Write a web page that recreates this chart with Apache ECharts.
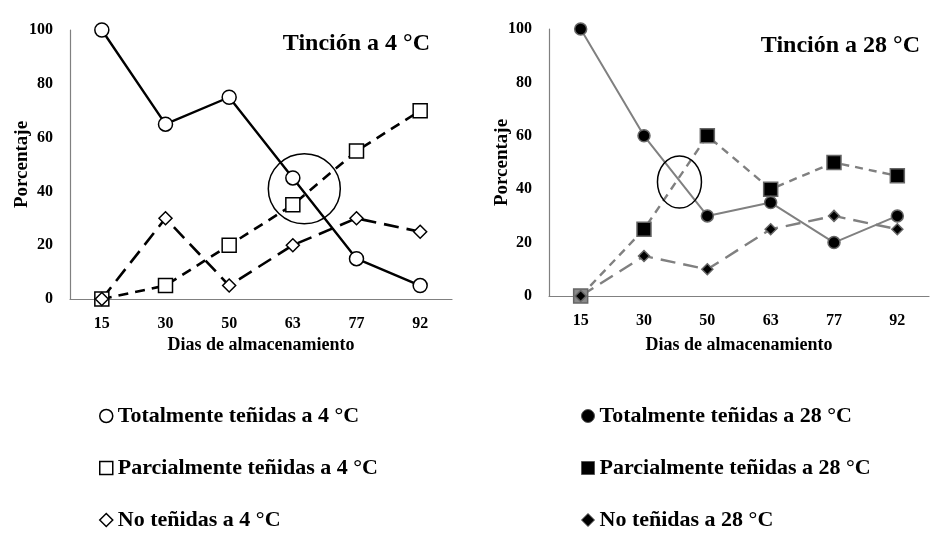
<!DOCTYPE html>
<html><head><meta charset="utf-8">
<script src="https://cdn.jsdelivr.net/npm/echarts@6/dist/echarts.min.js"></script>
<style>html,body{margin:0;background:#fff}#c{width:943px;height:544px}</style>
</head><body><div id="c"></div>
<script>
const days = ['15', '30', '50', '63', '77', '92'];
const total4 = [100, 65, 75, 45, 15, 5];
const partial4 = [0, 5, 20, 35, 55, 70];
const none4 = [0, 30, 5, 20, 30, 25];
const total28 = [100, 60, 30, 35, 20, 30];
const partial28 = [0, 25, 60, 40, 50, 45];
const none28 = [0, 15, 10, 25, 30, 25];
const names4 = ['Totalmente teñidas a 4 °C', 'Parcialmente teñidas a 4 °C', 'No teñidas a 4 °C'];
const names28 = ['Totalmente teñidas a 28 °C', 'Parcialmente teñidas a 28 °C', 'No teñidas a 28 °C'];
const titles = ['Tinción a 4 °C', 'Tinción a 28 °C'];
const xName = 'Dias de almacenamiento';
const yName = 'Porcentaje';

const FONT = 'Liberation Serif';
const chart = echarts.init(document.getElementById('c'));

function xAxis(gi, gap) {
  return {
    type: 'category', gridIndex: gi, data: days, boundaryGap: true,
    axisLine: { lineStyle: { color: '#808080', width: 1.2 } },
    axisTick: { show: false },
    axisLabel: { color: '#000', fontFamily: FONT, fontWeight: 'bold', fontSize: 16, margin: 17 },
    name: xName, nameLocation: 'middle', nameGap: gap, nameMoveOverlap: false,
    nameTextStyle: { color: '#000', fontFamily: FONT, fontWeight: 'bold', fontSize: 18 }
  };
}
function yAxis(gi, gap) {
  return {
    type: 'value', gridIndex: gi, min: 0, max: 100, interval: 20,
    splitLine: { show: false },
    axisLine: { show: true, lineStyle: { color: '#808080', width: 1.2 } },
    axisTick: { show: false },
    axisLabel: { color: '#000', fontFamily: FONT, fontWeight: 'bold', fontSize: 16, margin: 17 },
    name: yName, nameLocation: 'middle', nameGap: gap, nameRotate: 90, nameMoveOverlap: false,
    nameTextStyle: { color: '#000', fontFamily: FONT, fontWeight: 'bold', fontSize: 19 }
  };
}
function ser(gi, name, data, symbol, size, lineColor, width, dash, fill, border) {
  return {
    type: 'line', name, data, xAxisIndex: gi, yAxisIndex: gi,
    symbol, symbolSize: size, showAllSymbol: true,
    lineStyle: { color: lineColor, width, type: dash },
    itemStyle: { color: fill, borderColor: border, borderWidth: 1.5 },
    emphasis: { disabled: true }, animation: false
  };
}
const legendText = { color: '#000', fontFamily: FONT, fontWeight: 'bold', fontSize: 22 };
const G = '#808080';

chart.setOption({
  backgroundColor: '#fff',
  animation: false,
  title: [
    { text: titles[0], right: 943 - 435, top: 27, textStyle: { fontFamily: FONT, fontWeight: 'bold', fontSize: 24, color: '#000' } },
    { text: titles[1], right: 943 - 925, top: 29, textStyle: { fontFamily: FONT, fontWeight: 'bold', fontSize: 24, color: '#000' } }
  ],
  grid: [
    { left: 70, top: 30, width: 382, height: 269 },
    { left: 549, top: 29, width: 380, height: 267 }
  ],
  xAxis: [xAxis(0, 37), xAxis(1, 40)],
  yAxis: [yAxis(0, 38), yAxis(1, 37)],
  legend: [
    { orient: 'vertical', left: 94, top: 400, itemGap: 30, itemWidth: 13, itemHeight: 13, textStyle: legendText, selectedMode: false,
      data: [
        { name: names4[0], icon: 'circle', itemStyle: { color: '#fff', borderColor: '#000', borderWidth: 1.5 } },
        { name: names4[1], icon: 'rect', itemStyle: { color: '#fff', borderColor: '#000', borderWidth: 1.5 } },
        { name: names4[2], icon: 'diamond', itemStyle: { color: '#fff', borderColor: '#000', borderWidth: 1.5 } }
      ] },
    { orient: 'vertical', left: 576, top: 400, itemGap: 30, itemWidth: 13, itemHeight: 13, textStyle: legendText, selectedMode: false,
      data: [
        { name: names28[0], icon: 'circle', itemStyle: { color: '#000', borderColor: '#555', borderWidth: 1 } },
        { name: names28[1], icon: 'rect', itemStyle: { color: '#000', borderColor: '#555', borderWidth: 1 } },
        { name: names28[2], icon: 'diamond', itemStyle: { color: '#000', borderColor: '#555', borderWidth: 1 } }
      ] }
  ],
  series: [
    ser(0, names4[1], partial4, 'rect', 14, '#000', 2.6, [10, 7], '#fff', '#000'),
    ser(0, names4[2], none4, 'diamond', 13, '#000', 2.6, [15, 8], '#fff', '#000'),
    ser(0, names4[0], total4, 'circle', 14, '#000', 2.4, 'solid', '#fff', '#000'),
    ser(1, names28[1], partial28.map((v, i) => i === 0 ? { value: v, itemStyle: { color: '#8a8a8a' } } : v), 'rect', 14, G, 2.4, [8, 6], '#000', '#666'),
    ser(1, names28[0], total28, 'circle', 12, G, 2, 'solid', '#000', '#666'),
    ser(1, names28[2], none28, 'diamond', 11, G, 2.4, [15, 8], '#000', '#666')
  ]
});

function catPx(gi, pos, val) {
  const i = Math.floor(pos), f = pos - i;
  const a = chart.convertToPixel({ gridIndex: gi }, [i, val]);
  const b = chart.convertToPixel({ gridIndex: gi }, [i + 1, val]);
  return [a[0] + (b[0] - a[0]) * f, a[1]];
}
const c1 = catPx(0, 3.18, 41);
const c2 = catPx(1, 1.56, 42.7);
chart.setOption({
  graphic: [
    { type: 'ellipse', shape: { cx: c1[0], cy: c1[1], rx: 36, ry: 35 }, style: { fill: 'none', stroke: '#000', lineWidth: 1.5 }, z: 100 },
    { type: 'ellipse', shape: { cx: c2[0], cy: c2[1], rx: 22, ry: 26 }, style: { fill: 'none', stroke: '#000', lineWidth: 1.5 }, z: 100 }
  ]
});
</script>
</body></html>
